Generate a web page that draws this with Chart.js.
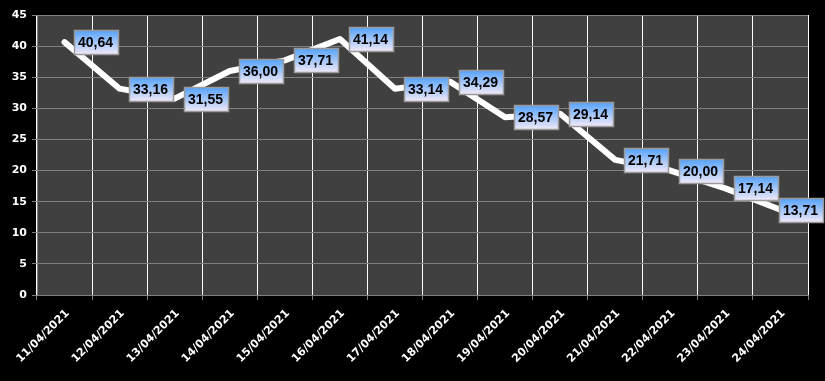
<!DOCTYPE html>
<html>
<head>
<meta charset="utf-8">
<script src="https://cdn.jsdelivr.net/npm/chart.js@4"></script>
<style>
    html, body { margin: 0; padding: 0; background: #000; }
    #wrap { width: 825px; height: 381px; }
</style>
</head>
<body>
<div id="wrap"><canvas id="lineChart" width="825" height="381"></canvas></div>
<script>
const dates = [
    "11/04/2021", "12/04/2021", "13/04/2021", "14/04/2021", "15/04/2021",
    "16/04/2021", "17/04/2021", "18/04/2021", "19/04/2021", "20/04/2021",
    "21/04/2021", "22/04/2021", "23/04/2021", "24/04/2021",
];
const values = [
    40.64, 33.16, 31.55, 36.0, 37.71, 41.14, 33.14,
    34.29, 28.57, 29.14, 21.71, 20.0, 17.14, 13.71,
];
const yTicks = [0, 5, 10, 15, 20, 25, 30, 35, 40, 45];

// dark plot area behind the grid
const plotBg = {
    id: "plotBg",
    beforeDraw(chart) {
        const { ctx, chartArea: a } = chart;
        ctx.save();
        ctx.fillStyle = "#404040";
        ctx.fillRect(a.left, a.top, a.right - a.left, a.bottom - a.top);
        ctx.restore();
    },
};

// value boxes to the right of each point
const valueBoxes = {
    id: "valueBoxes",
    afterDatasetsDraw(chart) {
        const { ctx } = chart;
        const meta = chart.getDatasetMeta(0);
        ctx.save();
        ctx.font = "bold 14px 'Liberation Sans', Arial, sans-serif";
        ctx.textBaseline = "middle";
        meta.data.forEach((pt, i) => {
            const text = values[i].toFixed(2).replace(".", ",");
            const w = Math.round(ctx.measureText(text).width + 9);
            const h = 24;
            let x = Math.round(pt.x + 9) + 0.5;
            x = Math.min(x, chart.width - w - 1.5);
            const y = Math.round(pt.y - h / 2) + 0.5;
            const grad = ctx.createLinearGradient(0, y, 0, y + h);
            grad.addColorStop(0, "#55a2fa");
            grad.addColorStop(1, "#f2eaf8");
            ctx.fillStyle = grad;
            ctx.fillRect(x, y, w, h);
            ctx.strokeStyle = "#9a9a9a";
            ctx.lineWidth = 1.5;
            ctx.strokeRect(x, y, w, h);
            ctx.fillStyle = "#000";
            ctx.fillText(text, x + 3.5, y + h / 2 + 1);
        });
        ctx.restore();
    },
};

const ctx = document.getElementById("lineChart").getContext("2d");
new Chart(ctx, {
    type: "line",
    data: {
        labels: dates,
        datasets: [
            {
                data: values,
                borderColor: "#ffffff",
                borderWidth: 6,
                borderJoinStyle: "round",
                borderCapStyle: "round",
                pointRadius: 0,
                tension: 0,
            },
        ],
    },
    options: {
        responsive: false,
        animation: false,
        devicePixelRatio: 1,
        layout: { padding: { top: 15, right: 17, left: 0, bottom: 0 } },
        plugins: {
            legend: { display: false },
            tooltip: { enabled: false },
        },
        scales: {
            x: {
                offset: true,
                grid: {
                    offset: true,
                    color: "#ffffff",
                    tickColor: "#808080",
                    tickLength: 5,
                },
                border: { color: "#808080" },
                ticks: {
                    color: "#ffffff",
                    font: { family: "'DejaVu Sans', sans-serif", weight: "bold", size: 11 },
                    minRotation: 45,
                    maxRotation: 45,
                    autoSkip: false,
                    padding: 7,
                    labelOffset: 3,
                },
                afterFit: (scale) => {
                    scale.height = 86;
                },
            },
            y: {
                min: 0,
                max: 45,
                afterBuildTicks: (scale) => {
                    scale.ticks = yTicks.map((v) => ({ value: v }));
                },
                grid: {
                    color: "#808080",
                    tickColor: "#808080",
                    tickLength: 5,
                },
                border: { color: "#808080" },
                ticks: {
                    color: "#ffffff",
                    font: { family: "'DejaVu Sans', sans-serif", weight: "bold", size: 11 },
                    padding: 5,
                },
                afterFit: (scale) => {
                    scale.width = 37;
                },
            },
        },
    },
    plugins: [plotBg, valueBoxes],
});
</script>
</body>
</html>
